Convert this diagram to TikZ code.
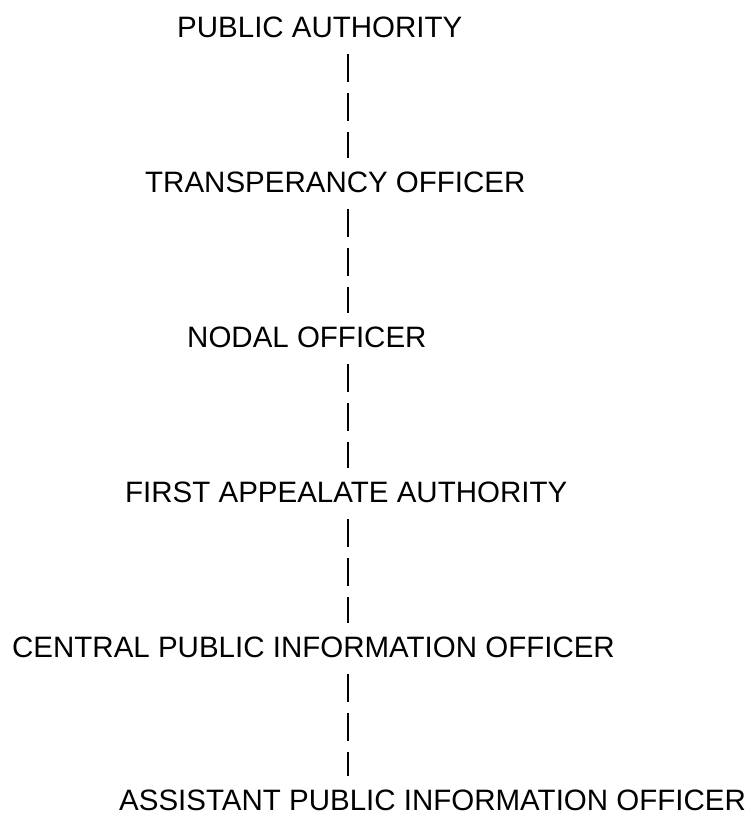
\documentclass[tikz,border=0pt]{standalone}
\usepackage{fontspec}
\setmainfont{Liberation Sans}
\usepackage{tikz}
\usetikzlibrary{positioning}

\begin{document}
\begin{tikzpicture}[x=1pt,y=1pt,
	post/.style={anchor=base west, inner sep=0pt, font=\fontsize{29.5}{35}\selectfont},
	bars/.style={line width=2.3pt, dash pattern=on 28pt off 10.8pt, shorten <=16.5pt, shorten >=13pt}]
		\useasboundingbox (0,0) rectangle (753,-814);
		\coordinate (barx) at (348,0);

		\node[post] (pa) at (177,-37) {PUBLIC AUTHORITY};
		\node[post] (to) at (145,-192) {TRANSPERANCY OFFICER};
		\node[post] (no) at (187,-347) {NODAL OFFICER};
		\node[post] (faa) at (125,-502) {FIRST APPEALATE AUTHORITY};
		\node[post] (cpio) at (12,-657) {CENTRAL PUBLIC INFORMATION OFFICER};
		\node[post] (apio) at (119,-810) {ASSISTANT PUBLIC INFORMATION OFFICER};

		\draw[bars] (pa.south -| barx) -- (to.north -| barx);
		\draw[bars] (to.south -| barx) -- (no.north -| barx);
		\draw[bars] (no.south -| barx) -- (faa.north -| barx);
		\draw[bars] (faa.south -| barx) -- (cpio.north -| barx);
		\draw[bars] (cpio.south -| barx) -- (apio.north -| barx);
	\end{tikzpicture}
\end{document}
